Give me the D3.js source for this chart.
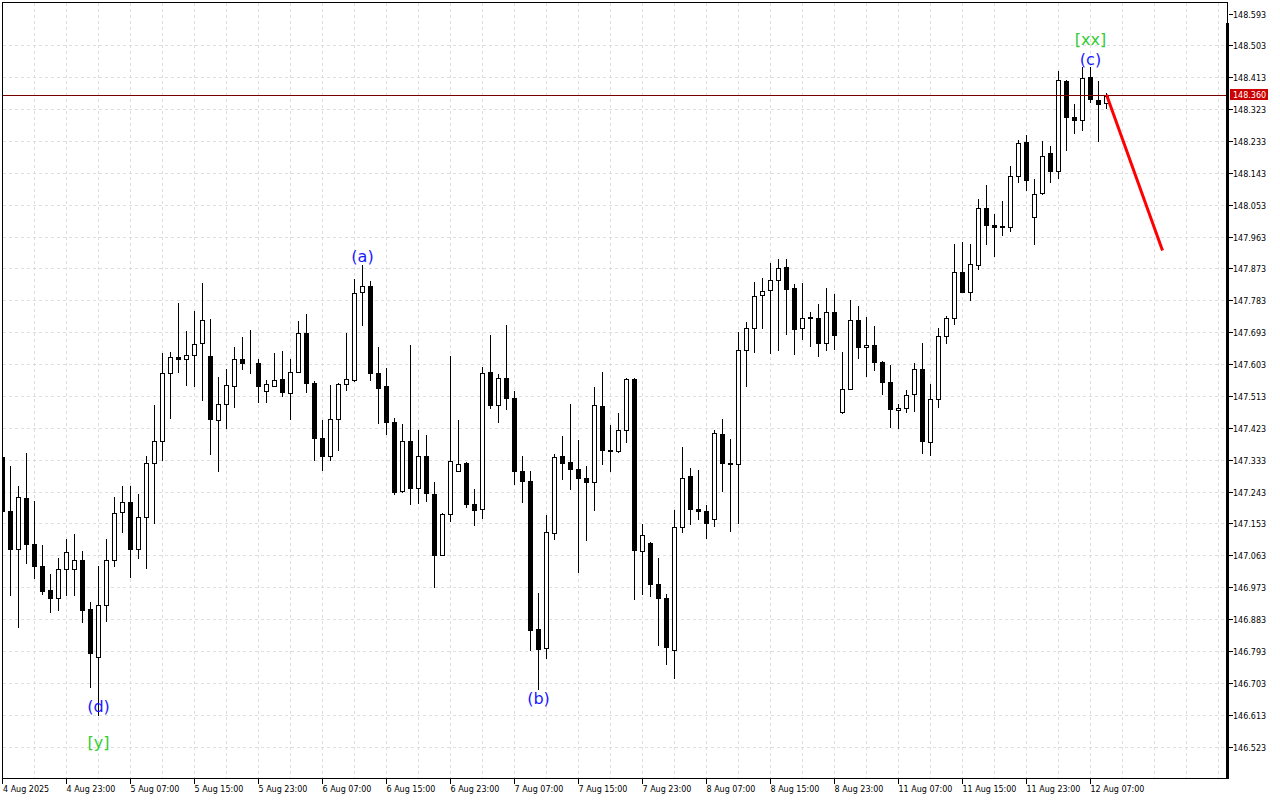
<!DOCTYPE html>
<html><head><meta charset="utf-8">
<script src="https://cdn.jsdelivr.net/npm/d3@7"></script>
<style>html,body{margin:0;padding:0;background:#fff;}svg{display:block;}</style>
</head><body>
<svg id="chart" width="1280" height="800"></svg>
<script>
// ---- DATA (H1 candles, 4 Aug 15:00 .. 12 Aug 09:00) ----
const open = [147.341,147.189,147.081,147.225,147.095,147.033,146.964,146.942,147.025,147.025,
147.051,146.910,146.775,146.923,147.050,147.186,147.214,147.081,147.172,147.324,
147.385,147.578,147.623,147.618,147.629,147.663,147.626,147.446,147.491,147.542,
147.618,147.607,147.607,147.527,147.542,147.561,147.522,147.581,147.691,147.550,
147.395,147.343,147.448,147.547,147.558,147.807,147.824,147.578,147.540,147.440,
147.244,147.386,147.252,147.344,147.237,147.063,147.180,147.301,147.324,147.209,
147.194,147.581,147.487,147.564,147.508,147.301,147.273,146.855,146.802,147.126,
147.344,147.327,147.307,147.282,147.269,147.485,147.361,147.357,147.417,147.561,
147.076,147.098,146.982,146.943,146.795,147.142,147.287,147.194,147.189,147.165,
147.406,147.325,147.320,147.643,147.704,147.799,147.813,147.841,147.878,147.818,
147.705,147.736,147.734,147.663,147.751,147.467,147.533,147.728,147.651,147.657,
147.609,147.553,147.474,147.479,147.519,147.590,147.383,147.505,147.683,147.734,
147.864,147.807,147.883,148.044,147.996,147.991,147.991,148.135,148.231,148.019,
148.086,148.200,148.148,148.403,148.301,148.293,148.414,148.349,148.341];
const high = [147.345,147.316,147.260,147.352,147.215,147.093,147.009,147.056,147.108,147.124,
147.076,146.932,147.032,147.110,147.228,147.260,147.260,147.237,147.343,147.486,
147.635,147.638,147.776,147.695,147.753,147.832,147.731,147.567,147.590,147.652,
147.680,147.700,147.618,147.558,147.635,147.640,147.618,147.725,147.745,147.556,
147.446,147.543,147.550,147.692,147.844,147.884,147.838,147.652,147.592,147.451,
147.434,147.657,147.417,147.403,147.270,147.183,147.626,147.446,147.327,147.251,
147.595,147.684,147.575,147.712,147.527,147.344,147.301,146.957,147.176,147.350,
147.400,147.491,147.389,147.316,147.539,147.581,147.431,147.465,147.564,147.564,
147.152,147.100,147.056,146.954,147.191,147.369,147.310,147.304,147.205,147.417,
147.448,147.392,147.693,147.723,147.835,147.847,147.889,147.900,147.900,147.830,
147.832,147.751,147.774,147.818,147.801,147.638,147.784,147.767,147.736,147.711,
147.612,147.601,147.490,147.530,147.607,147.663,147.547,147.705,147.739,147.943,
147.948,147.943,148.070,148.109,148.027,148.064,148.163,148.236,148.250,148.126,
148.233,148.219,148.431,148.404,148.338,148.442,148.442,148.403,148.369];
const low = [147.180,146.950,146.860,147.041,146.998,146.955,146.904,146.908,146.950,146.950,
146.874,146.690,146.613,146.877,147.034,147.128,147.001,147.055,147.026,147.153,
147.331,147.450,147.580,147.543,147.540,147.501,147.348,147.300,147.422,147.482,
147.590,147.578,147.496,147.496,147.542,147.512,147.447,147.581,147.523,147.331,
147.303,147.331,147.360,147.529,147.555,147.712,147.557,147.436,147.405,147.235,
147.242,147.207,147.210,147.216,146.973,147.063,147.159,147.301,147.199,147.148,
147.168,147.478,147.439,147.475,147.264,147.213,146.795,146.684,146.772,147.108,
147.278,147.250,147.015,147.106,147.190,147.320,147.300,147.355,147.382,146.939,
146.953,146.947,146.809,146.755,146.716,147.129,147.151,147.165,147.111,147.145,
147.244,147.131,147.154,147.540,147.636,147.704,147.634,147.642,147.687,147.631,
147.673,147.653,147.625,147.642,147.645,147.464,147.533,147.620,147.569,147.586,
147.518,147.425,147.422,147.468,147.471,147.352,147.347,147.482,147.663,147.717,
147.807,147.784,147.872,147.943,147.909,147.968,147.979,148.118,148.095,147.943,
148.084,148.117,148.128,148.208,148.256,148.265,148.344,148.233,148.327];
const close = [147.189,147.081,147.228,147.095,147.032,146.961,146.942,147.025,147.073,147.050,
146.908,146.786,146.924,147.050,147.183,147.214,147.081,147.172,147.324,147.386,
147.577,147.622,147.617,147.629,147.659,147.728,147.447,147.491,147.544,147.618,
147.607,147.606,147.542,147.547,147.558,147.525,147.581,147.691,147.549,147.394,
147.343,147.448,147.547,147.561,147.804,147.824,147.577,147.535,147.439,147.241,
147.386,147.252,147.344,147.239,147.063,147.180,147.330,147.321,147.208,147.190,
147.578,147.487,147.564,147.507,147.300,147.272,146.852,146.798,147.129,147.341,
147.323,147.307,147.282,147.269,147.488,147.360,147.357,147.417,147.561,147.077,
147.120,146.981,146.942,146.804,147.142,147.282,147.193,147.187,147.154,147.408,
147.323,147.320,147.642,147.704,147.796,147.810,147.841,147.875,147.814,147.701,
147.734,147.734,147.662,147.751,147.684,147.533,147.728,147.651,147.657,147.608,
147.552,147.475,147.479,147.516,147.590,147.386,147.505,147.683,147.734,147.864,
147.807,147.886,148.044,147.996,147.991,147.992,148.134,148.228,148.123,148.084,
148.191,148.148,148.406,148.300,148.292,148.411,148.352,148.338,148.360];

const priceTicks = [148.593,148.503,148.413,148.323,148.233,148.143,148.053,147.963,147.873,147.783,
147.693,147.603,147.513,147.423,147.333,147.243,147.153,147.063,146.973,146.883,
146.793,146.703,146.613,146.523];

const timeLabelIndex = [0,8,16,24,32,40,48,56,64,72,80,88,96,104,112,120,128,136];
const timeLabels = ["4 Aug 2025","4 Aug 23:00","5 Aug 07:00","5 Aug 15:00","5 Aug 23:00",
"6 Aug 07:00","6 Aug 15:00","6 Aug 23:00","7 Aug 07:00","7 Aug 15:00","7 Aug 23:00",
"8 Aug 07:00","8 Aug 15:00","8 Aug 23:00","11 Aug 07:00","11 Aug 15:00","11 Aug 23:00","12 Aug 07:00"];

const waveText  = ["(d)","[y]","(a)","(b)","(c)","[xx]"];
const waveIndex = [12,12,45,67,136,136];
const wavePrice = [146.622,146.520,147.893,146.644,148.450,148.505];
const waveDegree = ["minor","major","minor","minor","minor","major"];

const forecastIndex = [138,145];
const forecastPrice = [148.365,147.925];
const currentPrice = 148.360;

// ---- DRAWING ----
const svg = d3.select("#chart");
const L = 2, T = 2, R = 1227, B = 778;
const x = d3.scaleLinear().domain([0,153]).range([2.5,1226.5]);
const y = d3.scaleLinear().domain([146.523,148.593]).range([747,14]);
const px = v => Math.floor(x(v)) + 0.5;
const py = v => Math.floor(y(v)) + 0.5;

svg.append("rect").attr("width",1280).attr("height",800).attr("fill","#fff");

svg.append("defs").append("clipPath").attr("id","plot")
  .append("rect").attr("x",L+1).attr("y",T+1).attr("width",R-L-1).attr("height",B-T-1);

const grid = svg.append("g").attr("shape-rendering","crispEdges")
  .attr("stroke","#dedede").attr("stroke-dasharray","3,3");
grid.selectAll("line.h").data(priceTicks.filter((d,i)=>i>0)).join("line")
  .attr("x1",L+1).attr("x2",R).attr("y1",d=>py(d)).attr("y2",d=>py(d));
grid.selectAll("line.v").data(d3.range(4,153,4)).join("line")
  .attr("x1",d=>px(d)).attr("x2",d=>px(d)).attr("y1",T+1).attr("y2",B);

const plot = svg.append("g").attr("clip-path","url(#plot)");

const candles = d3.range(open.length).map(i=>({i,o:open[i],h:high[i],l:low[i],c:close[i]}));
const cg = plot.append("g").attr("shape-rendering","crispEdges");
cg.selectAll("line.w").data(candles).join("line")
  .attr("x1",d=>px(d.i)).attr("x2",d=>px(d.i))
  .attr("y1",d=>Math.floor(y(d.h))).attr("y2",d=>Math.floor(y(d.l))+1)
  .attr("stroke","#000").attr("stroke-width",1);
cg.selectAll("rect.b").data(candles).join("rect")
  .attr("x",d=>px(d.i)-2).attr("width",4)
  .attr("y",d=>py(Math.max(d.o,d.c)))
  .attr("height",d=>Math.max(0,Math.floor(y(Math.min(d.o,d.c)))-Math.floor(y(Math.max(d.o,d.c)))))
  .attr("fill",d=>d.c>=d.o?"#fff":"#000").attr("stroke","#000").attr("stroke-width",1);

// current price line
plot.append("line").attr("shape-rendering","crispEdges")
  .attr("x1",L).attr("x2",R).attr("y1",py(currentPrice)-1).attr("y2",py(currentPrice)-1)
  .attr("stroke","#7a0000").attr("stroke-width",1);

// forecast line
plot.append("path")
  .datum(forecastIndex.map((d,k)=>[d,forecastPrice[k]]))
  .attr("d",d3.line().x(d=>x(d[0])).y(d=>y(d[1])))
  .attr("stroke","#ff0000").attr("stroke-width",3).attr("fill","none");

// wave labels
svg.append("g").selectAll("text").data(waveText).join("text")
  .attr("x",(d,k)=>x(waveIndex[k])).attr("y",(d,k)=>y(wavePrice[k]))
  .attr("text-anchor","middle")
  .attr("font-family","DejaVu Sans, Verdana, sans-serif").attr("font-size",16)
  .attr("fill",(d,k)=>waveDegree[k]==="major"?"#33cc33":"#1a1aff")
  .text(d=>d);

// frame
const fr = svg.append("g").attr("shape-rendering","crispEdges").attr("stroke","#000").attr("fill","none");
fr.append("line").attr("x1",L).attr("x2",R+1).attr("y1",T+0.5).attr("y2",T+0.5);
fr.append("line").attr("x1",L+0.5).attr("x2",L+0.5).attr("y1",T).attr("y2",B+1);
fr.append("line").attr("x1",L).attr("x2",R+1).attr("y1",B+0.5).attr("y2",B+0.5);
fr.append("line").attr("x1",R+0.5).attr("x2",R+0.5).attr("y1",T).attr("y2",B+1);
svg.append("rect").attr("x",R-1).attr("y",23).attr("width",3).attr("height",B-23+1).attr("fill","#000");

// price axis
const ya = svg.append("g");
ya.selectAll("line").data(priceTicks).join("line").attr("shape-rendering","crispEdges")
  .attr("x1",R+2).attr("x2",R+6).attr("y1",d=>py(d)).attr("y2",d=>py(d)).attr("stroke","#000");
ya.selectAll("text").data(priceTicks).join("text")
  .attr("x",R+6).attr("y",d=>Math.floor(y(d))+3.5)
  .attr("font-family","DejaVu Sans, Verdana, sans-serif").attr("font-size",8).attr("fill","#000")
  .text(d=>d.toFixed(3));

// current price tag
svg.append("rect").attr("x",R+3).attr("y",Math.floor(y(currentPrice))-7).attr("width",38).attr("height",11).attr("fill","#cc0000");
svg.append("text").attr("x",R+6).attr("y",Math.floor(y(currentPrice))+2)
  .attr("font-family","DejaVu Sans, Verdana, sans-serif").attr("font-size",8).attr("fill","#fff")
  .text(currentPrice.toFixed(3));

// time axis
const xa = svg.append("g");
xa.selectAll("line").data(timeLabelIndex).join("line").attr("shape-rendering","crispEdges")
  .attr("x1",d=>Math.max(L+0.5,px(d))).attr("x2",d=>Math.max(L+0.5,px(d))).attr("y1",B).attr("y2",B+6).attr("stroke","#000");
xa.selectAll("text").data(timeLabels).join("text")
  .attr("x",(d,k)=>Math.max(L+1,px(timeLabelIndex[k])))
  .attr("y",792)
  .attr("font-family","DejaVu Sans, Verdana, sans-serif").attr("font-size",8).attr("fill","#000")
  .text(d=>d);
</script>
</body></html>
